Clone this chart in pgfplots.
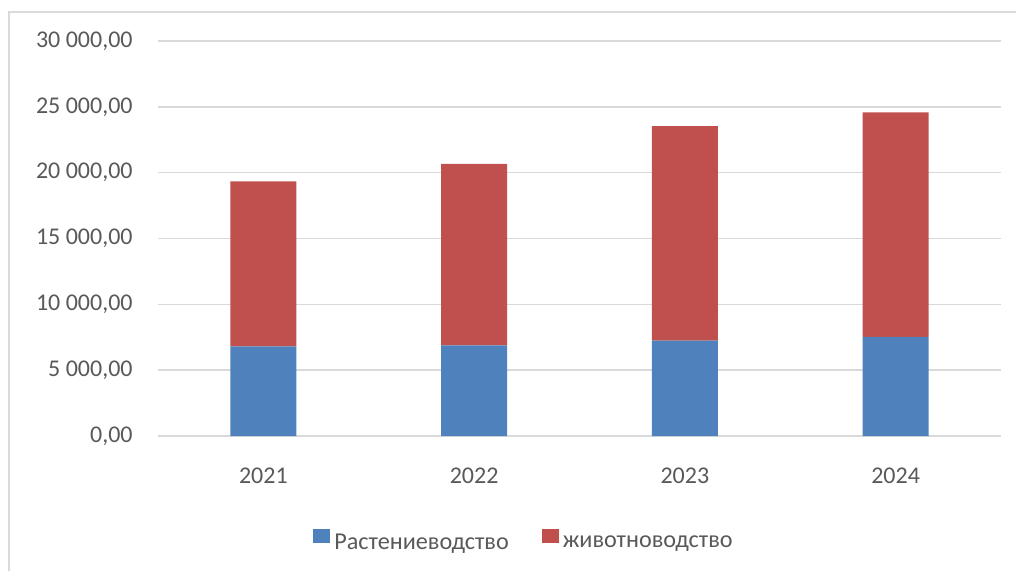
\documentclass[border=0pt]{standalone}
\usepackage{fontspec}
\setmainfont{Carlito}
\usepackage{pgfplots}
\pgfplotsset{compat=1.18}
\definecolor{cblue}{HTML}{4F81BD}
\definecolor{cred}{HTML}{C0504D}
\definecolor{cgrid}{HTML}{D9D9D9}
\definecolor{ctext}{HTML}{595959}
\pgfplotsset{sqlegend/.style={legend image code/.code={\path (0pt,0pt) rectangle (8.5pt,7pt);\fill[##1] (0pt,0pt) rectangle (7pt,7pt);}}}
\begin{document}
\begin{tikzpicture}
\clip (0pt,0pt) rectangle (508pt,-285.5pt);
\path[use as bounding box] (0pt,0pt) rectangle (508pt,-285.5pt);
\draw[cgrid, line width=1pt] (4.5pt,-6pt) rectangle (600pt,-400pt);
\begin{axis}[
  at={(79pt,-218pt)}, anchor=south west,
  scale only axis, width=421.5pt, height=197.5pt,
  xmin=-0.5, xmax=3.5, ymin=0, ymax=30000,
  scaled y ticks=false,
  xtick={0,1,2,3}, xticklabels={2021,2022,2023,2024},
  ytick={0,5000,10000,15000,20000,25000,30000},
  yticklabels={{0,00},{5 000,00},{10 000,00},{15 000,00},{20 000,00},{25 000,00},{30 000,00}},
  ymajorgrids, grid style={cgrid, line width=0.75pt},
  axis line style={draw=none}, major tick length=0pt,
  tick label style={font=\fontsize{12pt}{14pt}\selectfont, text=ctext},
  yticklabel style={anchor=east, inner sep=0pt, xshift=-12.5pt},
  xticklabel style={anchor=north, inner sep=0pt, yshift=-16pt},
  ybar stacked, bar width=33pt,
  legend columns=2,
  legend style={at={(0.4353,-0.2709)}, anchor=center, draw=none, fill=none,
    font=\fontsize{12.1pt}{14pt}\selectfont, text=ctext,
    /tikz/every even column/.append style={column sep=14.5pt}},
]
\addplot[fill=cblue, draw=none, sqlegend] coordinates {(0,6810) (1,6890) (2,7240) (3,7520)};
\addplot[fill=cred, draw=none, sqlegend] coordinates {(0,12530) (1,13770) (2,16300) (3,17060)};
\legend{Растениеводство, животноводство}
\end{axis}
\end{tikzpicture}
\end{document}
